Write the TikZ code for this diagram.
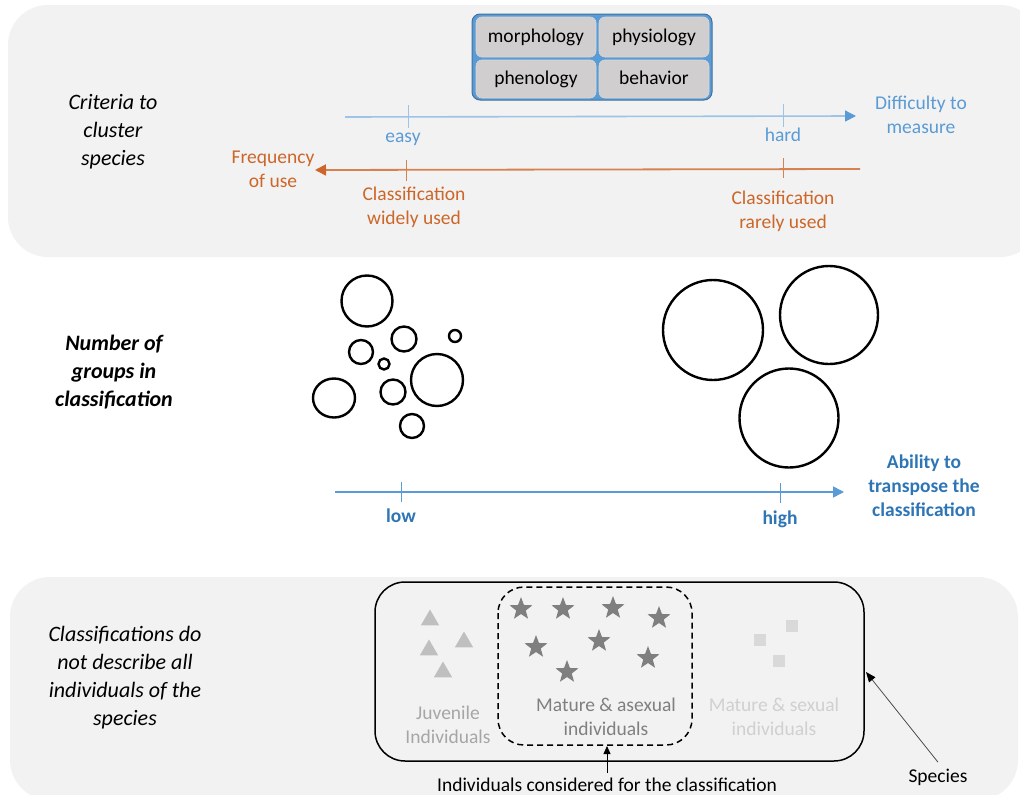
\documentclass[tikz,border=0pt]{standalone}
\usepackage{fontspec}
\setmainfont{Carlito}
\usetikzlibrary{shapes.geometric,arrows.meta}
\definecolor{panel}{HTML}{F2F2F2}
\definecolor{bluetxt}{HTML}{5B9BD5}
\definecolor{bluedark}{HTML}{2E75B6}
\definecolor{bluelight}{HTML}{9DC3E6}
\definecolor{orangetxt}{RGB}{204,102,41}
\definecolor{orangeline}{RGB}{214,130,80}
\definecolor{cellgray}{HTML}{D0CECE}
\definecolor{boxblue}{HTML}{5B9BD5}
\definecolor{boxedge}{HTML}{41719C}
\definecolor{trigray}{HTML}{BFBFBF}
\definecolor{juvtxt}{HTML}{A6A6A6}
\definecolor{stargray}{HTML}{7F7F7F}
\definecolor{sqgray}{HTML}{D9D9D9}
\tikzset{
  basefont/.style={font=\fontsize{19.5}{24}\selectfont},
  sidelabel/.style={align=center, font=\fontsize{22}{28}\selectfont\itshape},
  cell/.style={draw=cellgray!80!white, fill=cellgray, rounded corners=6pt, line width=0.6pt},
  celltext/.style={font=\fontsize{19.5}{24}\selectfont, text=black},
  circ/.style={draw=black, line width=2.4pt},
  tick/.style={line width=0.9pt},
  startri/.style={star, star points=5, star point ratio=2.4, fill=stargray, minimum size=24pt, inner sep=0pt},
  tri/.style={regular polygon, regular polygon sides=3, fill=trigray, minimum size=21pt, inner sep=0pt},
  sq/.style={rectangle, fill=sqgray, minimum size=12pt, inner sep=0pt},
}
\begin{document}
\begin{tikzpicture}[x=1pt,y=-1pt,basefont]
\useasboundingbox (0,0) rectangle (1020,795);
\fill[white] (0,0) rectangle (1020,795);
% panels
\fill[panel, rounded corners=40pt] (8,5) rectangle (1040,257);
\fill[panel, rounded corners=40pt] (10,577) rectangle (1018,800);

% ---------- top panel ----------
\node[sidelabel] (crit) at (113,132) {Criteria to\\cluster\\species};

\draw[fill=boxblue, draw=boxedge, line width=1pt, rounded corners=8pt] (472,14) rectangle (712,100);
\draw[cell] (476,17) rectangle (596,57);
\draw[cell] (599,17) rectangle (709,57);
\draw[cell] (476,60) rectangle (596,98);
\draw[cell] (599,60) rectangle (709,98);
\node[celltext] (morph) at (536,37) {morphology};
\node[celltext] (phys) at (654,37) {physiology};
\node[celltext] (phen) at (536,79) {phenology};
\node[celltext] (behav) at (654,78) {behavior};

% difficulty arrow
\coordinate (dstart) at (345,117);
\coordinate (dend) at (856,116);
\draw[bluelight, line width=1.6pt, -{Triangle[length=11pt,width=11pt,color=bluetxt]}] (dstart) -- (dend);
\draw[bluelight, tick] (408,105) -- (408,128);
\draw[bluelight, tick] (783,104) -- (783,127);
\node[text=bluetxt] (easy) at (403,139) {easy};
\node[text=bluetxt] (hard) at (783,135) {hard};
\node[text=bluetxt, align=center] (diff) at (921,115) {Difficulty to\\measure};

% frequency arrow
\coordinate (fstart) at (860,169);
\coordinate (fend) at (315,170);
\draw[orangeline, line width=1.8pt, -{Triangle[length=11pt,width=11pt,color=orangetxt]}] (fstart) -- (fend);
\draw[orangeline, tick] (406,160) -- (406,181);
\draw[orangeline, tick] (783,158) -- (783,178);
\node[text=orangetxt, align=center] (freq) at (273,169) {Frequency\\of use};
\node[text=orangetxt, align=center] (wide) at (414,207) {Classification\\widely used};
\node[text=orangetxt, align=center] (rare) at (783,211) {Classification\\rarely used};

% ---------- middle ----------
\node[sidelabel, font=\fontsize{22}{28}\selectfont\bfseries\itshape] (ngroups) at (114,372) {Number of\\groups in\\classification};

\draw[circ] (367,301) circle (25.5);
\draw[circ] (361,352) circle (12);
\draw[circ] (404,339) circle (12.5);
\draw[circ] (455,336) circle (6);
\draw[circ] (384,364) circle (5.5);
\draw[circ] (437,380) circle (26);
\draw[circ] (334,398) ellipse (21 and 19.5);
\draw[circ] (393,392) circle (12.5);
\draw[circ] (412,426) circle (12);

\draw[circ] (713,330) circle (50);
\draw[circ] (829,315) circle (49);
\draw[circ] (789,418) circle (49.5);

\coordinate (astart) at (335,492);
\coordinate (aend) at (844,492);
\draw[bluetxt, line width=1.6pt, -{Triangle[length=11pt,width=11pt]}] (astart) -- (aend);
\draw[bluetxt, tick] (401,482) -- (401,502);
\draw[bluetxt, tick] (780,483) -- (780,503);
\node[text=bluedark, font=\fontsize{19.5}{24}\selectfont\bfseries] (low) at (401,516) {low};
\node[text=bluedark, font=\fontsize{19.5}{24}\selectfont\bfseries] (high) at (780,519) {high};
\node[text=bluedark, font=\fontsize{19.5}{24}\selectfont\bfseries, align=center] (abil) at (924,486) {Ability to\\transpose the\\classification};

% ---------- bottom panel ----------
\node[sidelabel] (cdesc) at (125,678) {Classifications do\\not describe all\\individuals of the\\species};

\draw[black, line width=1.5pt, rounded corners=30pt] (375,582) rectangle (864,761);
\node[inner sep=0pt, minimum width=489pt, minimum height=179pt] (speciesbox) at (619.5,671.5) {};
\draw[black, line width=1.5pt, dash pattern=on 6pt off 4pt, rounded corners=26pt] (498,587) rectangle (692,745);
\node[inner sep=0pt, minimum width=194pt, minimum height=158pt] (dashbox) at (595,666) {};

% triangles
\node[tri] (t1) at (430,620) {};
\node[tri] (t2) at (464,642) {};
\node[tri] (t3) at (429,650) {};
\node[tri] (t4) at (443,672) {};
% stars
\node[startri] (s1) at (521,609) {};
\node[startri] (s2) at (563,609) {};
\node[startri] (s3) at (613,608) {};
\node[startri] (s4) at (659,618) {};
\node[startri] (s5) at (536,647) {};
\node[startri] (s6) at (599,641) {};
\node[startri] (s7) at (648,658) {};
\node[startri] (s8) at (567,672) {};
% squares
\node[sq] (q1) at (792,626) {};
\node[sq] (q2) at (760,640) {};
\node[sq] (q3) at (779,661) {};

\node[text=juvtxt, align=center] (juv) at (448,725) {Juvenile\\Individuals};
\node[text=stargray, align=center] (masex) at (606,717) {Mature \& asexual\\individuals};
\node[text=sqgray!90!gray, align=center] (msex) at (774,717) {Mature \& sexual\\individuals};

\node[text=black] (consid) at (607,785) {Individuals considered for the classification};
\node[text=black] (spec) at (938,777) {Species};

\draw[black, line width=0.8pt, -{Triangle[length=8pt,width=7pt]}] (consid.north) ++(0,-2) -- (607,746);
\draw[black!70, line width=0.8pt, -{Triangle[length=10pt,width=8pt,color=black]}] (spec.north) ++(0,-3) -- (866,672);
\end{tikzpicture}
\end{document}
